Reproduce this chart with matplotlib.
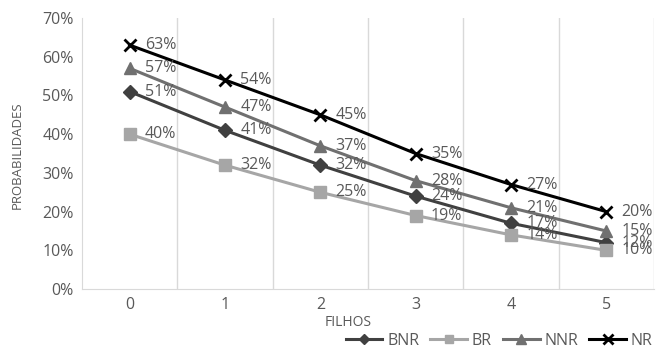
import matplotlib.pyplot as plt

plt.rcParams['font.family'] = ['Open Sans', 'DejaVu Sans']

filhos = [0, 1, 2, 3, 4, 5]
bnr = [0.51, 0.41, 0.32, 0.24, 0.17, 0.12]
br = [0.40, 0.32, 0.25, 0.19, 0.14, 0.10]
nnr = [0.57, 0.47, 0.37, 0.28, 0.21, 0.15]
nr = [0.63, 0.54, 0.45, 0.35, 0.27, 0.20]

series = [
    ('BNR', bnr, '#404040', 'D', 7),
    ('BR', br, '#a6a6a6', 's', 8),
    ('NNR', nnr, '#707070', '^', 9),
    ('NR', nr, '#000000', 'x', 9),
]

fig = plt.figure(figsize=(6.56, 3.53), dpi=100)
ax = fig.add_axes([0.125, 0.181, 0.872, 0.768])

for name, vals, col, mk, ms in series:
    ax.plot(filhos, vals, color=col, lw=2.2, marker=mk, ms=ms,
            mew=2 if mk == 'x' else 1, label=name)
    for x, v in zip(filhos, vals):
        ax.annotate(f'{v*100:.0f}%', (x, v), xytext=(11, 0),
                    textcoords='offset points', va='center', ha='left',
                    fontsize=11.5, color='#595959')

ax.set_xlim(-0.5, 5.5)
ax.set_ylim(0, 0.7)
ax.set_xticks(filhos)
ax.set_yticks([i / 10 for i in range(8)])
ax.set_yticklabels([f'{i*10}%' for i in range(8)])
ax.set_xticks([i + 0.5 for i in range(6)], minor=True)
ax.grid(True, which='minor', axis='x', color='#d9d9d9', lw=1)
ax.tick_params(which='both', length=0, labelsize=11.5, colors='#595959', pad=6)
for s in ['top', 'right']:
    ax.spines[s].set_visible(False)
for s in ['left', 'bottom']:
    ax.spines[s].set_color('#d9d9d9')

fig.text(0.53, 0.085, 'FILHOS', ha='center', va='center',
         fontsize=10, color='#595959')
fig.text(0.027, 0.56, 'PROBABILIDADES', ha='center', va='center',
         rotation=90, fontsize=9.5, color='#595959')

fig.legend(loc='center right', bbox_to_anchor=(0.995, 0.035), ncol=4,
           frameon=False, fontsize=11.5, handlelength=2.3, columnspacing=0.7,
           handletextpad=0.3, borderaxespad=0, borderpad=0,
           markerscale=0.8, labelcolor='#595959')

fig.savefig('out.png', dpi=100)
